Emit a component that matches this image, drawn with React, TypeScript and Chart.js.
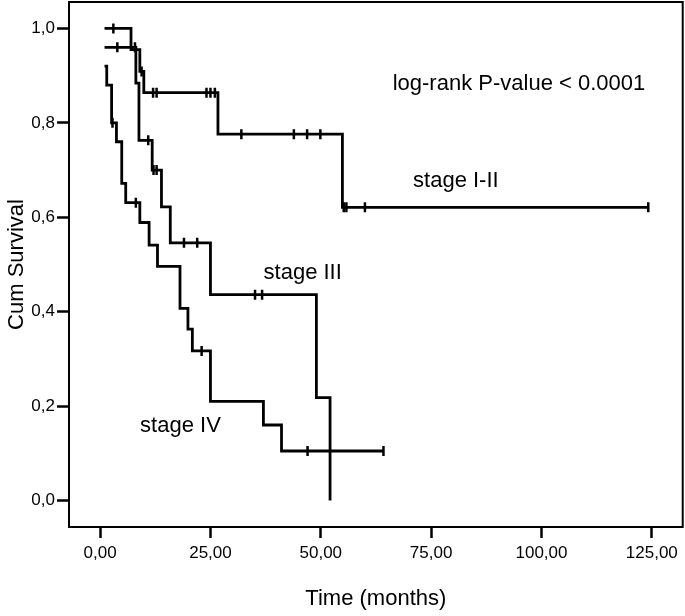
import React, { useEffect, useRef } from 'react';
import { Chart, registerables } from 'chart.js';

Chart.register(...registerables);

// Axis ticks and range
const X_TICKS = [0, 25, 50, 75, 100, 125];
const Y_TICKS = [0, 0.2, 0.4, 0.6, 0.8, 1.0];
const X_MIN = -7.05;
const X_MAX = 132;
const Y_MIN = -0.056;
const Y_MAX = 1.056;

// Stage I-II: step points (time, cumulative survival) and censoring times
const STAGE12_TIME = [1.0, 7.0, 9.0, 9.9, 26.7, 54.9, 124.2];
const STAGE12_SURV = [1.0, 0.955, 0.909, 0.864, 0.776, 0.621, 0.621];
const STAGE12_CENSORED = [3.0, 9.4, 12.0, 12.8, 24.1, 25.0, 26.0, 32.0, 43.9, 46.9, 49.9, 55.2, 55.8, 60.0, 124.2];

// Stage III
const STAGE3_TIME = [1.0, 8.1, 8.8, 11.8, 13.9, 15.9, 25.0, 49.0, 52.1];
const STAGE3_SURV = [0.96, 0.884, 0.763, 0.70, 0.622, 0.546, 0.436, 0.218, 0.0];
const STAGE3_CENSORED = [3.9, 7.9, 10.9, 12.1, 12.8, 19.0, 22.0, 35.1, 36.7];

// Stage IV
const STAGE4_TIME = [1.0, 1.5, 2.6, 3.7, 4.9, 5.8, 9.0, 11.1, 13.0, 18.1, 19.9, 20.9, 25.0, 37.0, 41.1, 64.2];
const STAGE4_SURV = [0.92, 0.88, 0.80, 0.76, 0.672, 0.631, 0.589, 0.541, 0.496, 0.407, 0.363, 0.317, 0.210, 0.160, 0.105, 0.105];
const STAGE4_CENSORED = [2.8, 8.1, 23.0, 47.0, 64.2];

// Text annotations (placed in data coordinates)
const NOTE_TEXTS = ['log-rank P-value < 0.0001', 'stage I-II', 'stage III', 'stage IV'];
const NOTE_X = [94.9, 80.6, 45.9, 18.2];
const NOTE_Y = [0.887, 0.682, 0.486, 0.162];

const FONT = "'Liberation Sans', Arial, sans-serif";

function survAt(times: number[], surv: number[], t: number): number {
  let v = surv[0];
  for (let i = 0; i < times.length; i++) {
    if (times[i] <= t) v = surv[i];
  }
  return v;
}

function curve(times: number[], surv: number[]) {
  return times.map((t, i) => ({ x: t, y: surv[i] }));
}

function censors(times: number[], surv: number[], cens: number[]) {
  return cens.map((t) => ({ x: t, y: survAt(times, surv, t) }));
}

const framePlugin = {
  id: 'frame',
  afterDraw(chart: any) {
    const { ctx, chartArea, scales } = chart;
    ctx.save();
    ctx.strokeStyle = '#000';
    ctx.lineWidth = 2;
    ctx.strokeRect(chartArea.left, chartArea.top, chartArea.right - chartArea.left, chartArea.bottom - chartArea.top);
    ctx.fillStyle = '#000';
    ctx.font = `22px ${FONT}`;
    ctx.textAlign = 'center';
    ctx.textBaseline = 'alphabetic';
    for (let i = 0; i < NOTE_TEXTS.length; i++) {
      const px = scales.x.getPixelForValue(NOTE_X[i]);
      const py = scales.y.getPixelForValue(NOTE_Y[i]);
      ctx.fillText(NOTE_TEXTS[i], px, py + 8);
    }
    ctx.restore();
  },
};

function zeroPadding(scale: any) {
  scale.paddingLeft = 0;
  scale.paddingRight = 0;
  scale.paddingTop = 0;
  scale.paddingBottom = 0;
}

export default function App() {
  const canvasRef = useRef<HTMLCanvasElement | null>(null);

  useEffect(() => {
    document.body.style.margin = '0';
    const canvas = canvasRef.current;
    if (!canvas) return;

    const lineDs = (data: any[]) => ({
      type: 'scatter' as const,
      data,
      showLine: true,
      stepped: 'before' as const,
      borderColor: '#000',
      borderWidth: 2.8,
      pointRadius: 0,
      pointHoverRadius: 0,
      fill: false,
    });
    const censDs = (data: any[]) => ({
      type: 'scatter' as const,
      data,
      showLine: false,
      pointStyle: 'line' as const,
      rotation: 90,
      pointRadius: 5,
      pointHoverRadius: 5,
      borderColor: '#000',
      backgroundColor: '#000',
      pointBorderWidth: 2.5,
      borderWidth: 2.5,
    });

    const chart = new Chart(canvas, {
      type: 'scatter',
      data: {
        datasets: [
          lineDs(curve(STAGE12_TIME, STAGE12_SURV)),
          lineDs(curve(STAGE3_TIME, STAGE3_SURV)),
          lineDs(curve(STAGE4_TIME, STAGE4_SURV)),
          censDs(censors(STAGE12_TIME, STAGE12_SURV, STAGE12_CENSORED)),
          censDs(censors(STAGE3_TIME, STAGE3_SURV, STAGE3_CENSORED)),
          censDs(censors(STAGE4_TIME, STAGE4_SURV, STAGE4_CENSORED)),
        ] as any,
      },
      options: {
        animation: false,
        responsive: false,
        events: [],
        layout: { autoPadding: false, padding: { left: 0, top: 2, right: 2.3, bottom: 0 } },
        plugins: {
          legend: { display: false },
          tooltip: { enabled: false },
        },
        scales: {
          x: {
            type: 'linear',
            min: X_MIN,
            max: X_MAX,
            afterBuildTicks: (scale: any) => {
              scale.ticks = X_TICKS.map((v) => ({ value: v }));
            },
            afterFit: (scale: any) => {
              scale.height = 89;
              zeroPadding(scale);
            },
            grid: {
              drawOnChartArea: false,
              drawTicks: true,
              tickLength: 11,
              tickWidth: 2.5,
              tickColor: '#000',
            },
            border: { display: false },
            ticks: {
              color: '#000',
              padding: 5,
              maxRotation: 0,
              font: { family: FONT, size: 17 },
              callback: (v: any) => Number(v).toFixed(2).replace('.', ','),
            },
            title: {
              display: true,
              text: 'Time (months)',
              color: '#000',
              font: { family: FONT, size: 22 },
              padding: { top: 4, bottom: 4 },
            },
          },
          y: {
            type: 'linear',
            min: Y_MIN,
            max: Y_MAX,
            afterBuildTicks: (scale: any) => {
              scale.ticks = Y_TICKS.map((v) => ({ value: v }));
            },
            afterFit: (scale: any) => {
              scale.width = 69;
              zeroPadding(scale);
            },
            grid: {
              drawOnChartArea: false,
              drawTicks: true,
              tickLength: 12,
              tickWidth: 2.5,
              tickColor: '#000',
            },
            border: { display: false },
            ticks: {
              color: '#000',
              padding: 2,
              font: { family: FONT, size: 17 },
              callback: (v: any) => Number(v).toFixed(1).replace('.', ','),
            },
            title: {
              display: true,
              text: 'Cum Survival',
              color: '#000',
              font: { family: FONT, size: 22 },
              padding: { top: 4, bottom: 4 },
            },
          },
        },
      },
      plugins: [framePlugin],
    });

    return () => {
      chart.destroy();
    };
  }, []);

  return (
    <div style={{ width: 685, height: 616 }}>
      <canvas ref={canvasRef} width={685} height={616} style={{ display: 'block' }} />
    </div>
  );
}
